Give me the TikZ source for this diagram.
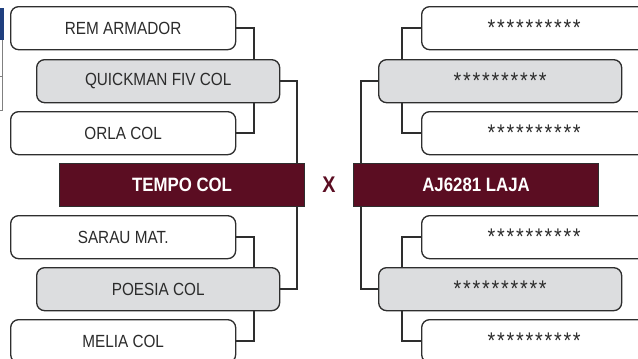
\documentclass[tikz,border=0pt]{standalone}
\usepackage{fontspec}
\setmainfont[FakeStretch=0.87]{Liberation Sans}
\usepackage{tikz}
\usepackage{xcolor}
\usetikzlibrary{positioning,calc}
\definecolor{black80}{HTML}{2E2E2E}
\definecolor{ink}{HTML}{2B2B2B}
\definecolor{wine}{HTML}{5B0D22}
\definecolor{silver}{HTML}{DCDDDF}
\definecolor{navy}{HTML}{1F3F7F}
\newcommand{\hidden}{{\fontsize{17}{18}\selectfont\addfontfeatures{LetterSpace=8}**********}}

\begin{document}
\begin{tikzpicture}[x=0.75pt, y=0.75pt,
    entry/.style={rectangle, rounded corners=6pt, draw=black80, line width=1pt, fill=white, minimum width=168.75pt, minimum height=32.25pt, inner sep=0pt, font=\fontsize{13.2}{15}\selectfont, text=ink, anchor=north west},
    winner/.style={entry, fill=silver, minimum width=182.25pt},
    final/.style={rectangle, draw=black80, line width=0.8pt, fill=wine, minimum width=183.75pt, minimum height=32.25pt, inner sep=0pt, font=\fontsize{14.5}{16}\selectfont\bfseries, text=white, anchor=north west},
    link/.style={draw=black80, line width=1.6pt}
]
    \clip (0,0) rectangle (638,-358);
    % Cut-off table at the left edge
    \fill[navy] (0,-8) rectangle (3.5,-40);
    \draw[gray, line width=0.6pt] (2.8,-40) -- (2.8,-110) -- (0,-110);
    \draw[gray, line width=0.6pt] (0,-76) -- (2.8,-76);

    % Left bracket
    \node[entry] (rem) at (10,-6) {REM ARMADOR};
    \node[winner] (quick) at (36,-59) {QUICKMAN FIV COL};
    \node[entry] (orla) at (10,-111) {ORLA COL};
    \node[final] (tempo) at (59,-163) {TEMPO COL};
    \node[entry] (sarau) at (10,-215) {SARAU MAT.};
    \node[winner] (poesia) at (36,-267) {POESIA COL};
    \node[entry] (melia) at (10,-319) {MELIA COL};

    % Right bracket
    \node[final, right=36pt of tempo] (laja) {AJ6281 LAJA};
    \node[entry] (r1) at (421,-6) {\hidden};
    \node[winner] (r12) at (378,-59) {\hidden};
    \node[entry] (r2) at (421,-111) {\hidden};
    \node[entry] (r3) at (421,-215) {\hidden};
    \node[winner] (r34) at (378,-267) {\hidden};
    \node[entry] (r4) at (421,-319) {\hidden};

    % Versus mark
    \node[font=\fontsize{17}{18}\selectfont\bfseries, text=wine] (vs) at ($(tempo.east)!0.5!(laja.west)$) {X};

    % Links: left side
    \draw[link] (rem.east) -| ([xshift=13.5pt]rem.east |- quick.north);
    \draw[link] (orla.east) -| ([xshift=13.5pt]orla.east |- quick.south);
    \draw[link] (quick.east) -| ([xshift=12.75pt]quick.east |- tempo.north);
    \draw[link] (sarau.east) -| ([xshift=13.5pt]sarau.east |- poesia.north);
    \draw[link] (melia.east) -| ([xshift=13.5pt]melia.east |- poesia.south);
    \draw[link] (poesia.east) -| ([xshift=12.75pt]poesia.east |- tempo.south);

    % Links: right side
    \draw[link] (r1.west) -| ([xshift=-14.25pt]r1.west |- r12.north);
    \draw[link] (r2.west) -| ([xshift=-14.25pt]r2.west |- r12.south);
    \draw[link] (r12.west) -| ([xshift=-12.75pt]r12.west |- laja.north);
    \draw[link] (r3.west) -| ([xshift=-14.25pt]r3.west |- r34.north);
    \draw[link] (r4.west) -| ([xshift=-14.25pt]r4.west |- r34.south);
    \draw[link] (r34.west) -| ([xshift=-12.75pt]r34.west |- laja.south);
\end{tikzpicture}
\end{document}
